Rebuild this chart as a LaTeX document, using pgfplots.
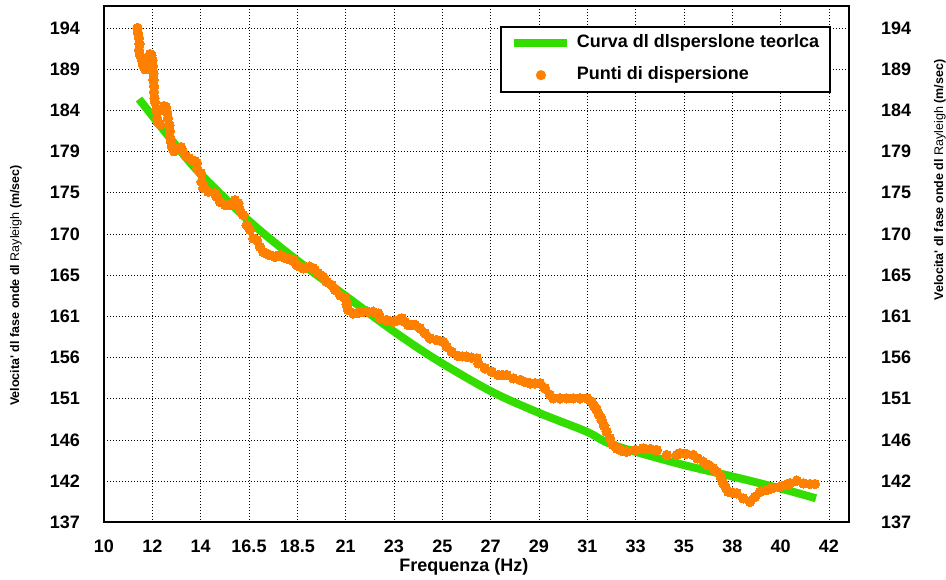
\documentclass[border=0pt]{standalone}
\usepackage{pgfplots}
\pgfplotsset{compat=1.18}
\usepackage{fontspec}
\setmainfont{Liberation Sans}
\definecolor{mygreen}{RGB}{51,221,0}
\definecolor{myorange}{RGB}{255,128,0}
\newcommand{\tickfont}{\fontsize{18}{20}\selectfont\bfseries}
\newcommand{\ylab}{{\bfseries Velocita\textquotesingle\ dl fase onde dl }Rayleigh{\bfseries\ (m/sec)}}
\begin{document}
\begin{tikzpicture}[x=1pt,y=1pt]
\useasboundingbox (0,0) rectangle (946,580);
\begin{axis}[
  at={(104pt,57.5pt)}, anchor=south west,
  scale only axis, width=745pt, height=516.5pt,
  xmin=10, xmax=42.883, ymin=137, ymax=196.54,
  xtick={10,12.1333,14.2667,16.4,18.5333,20.6667,22.8,24.9333,27.0667,29.2,31.3333,33.4667,35.6,37.7333,39.8667,42},
  xticklabels={10,12,14,16.5,18.5,21,23,25,27,29,31,33,35,38,40,42},
  ytick={137,141.75,146.5,151.25,156,160.75,165.5,170.25,175,179.75,184.5,189.25,194},
  yticklabels={137,142,146,151,156,161,165,170,175,179,184,189,194},
  major tick length=0pt,
  grid=major,
  major grid style={black, line width=0.8pt, dash pattern=on 0.9pt off 2.1pt},
  axis line style={line width=2pt},
  tick label style={font=\tickfont},
  xticklabel style={anchor=center, inner sep=0pt, yshift=-24pt},
  yticklabel style={anchor=east, inner sep=0pt, xshift=-24pt},
  xlabel={Frequenza (Hz)},
  every axis x label/.style={at={(axis description cs:0.4832,-0.0856)}, anchor=center, font=\tickfont},
  ylabel={\ylab},
  every axis y label/.style={at={(axis description cs:-0.1181,0.4589)}, rotate=90, anchor=center, font=\fontsize{12.5}{14}\selectfont},
  legend cell align=left,
  legend style={at={(axis description cs:0.5315,0.9619)}, anchor=north west, draw=black, line width=2pt, fill=white,
    inner xsep=6pt, inner ysep=8pt, row sep=15pt, font=\tickfont,
    nodes={inner sep=0pt, text height=13pt, text depth=4pt},
    /tikz/every odd column/.append style={column sep=6pt}},
]
\addplot[color=mygreen, line width=8pt, smooth, tension=0.5,
  legend image code/.code={\path (0pt,0pt); \draw[mygreen,line width=8pt] (3pt,0pt) -- (56pt,0pt);}]
  coordinates {
(11.545,185.82) (12.913,181.32) (14.237,177.23) (16.444,171.67) (18.505,167.26)
(20.712,163.03) (22.769,159.07) (24.685,155.73) (27.112,152.08) (29.244,149.59)
(31.305,147.47) (32.480,145.93) (35.423,143.74) (37.776,142.28) (39.837,140.94)
(41.427,139.79)
};
\addlegendentry{Curva dl dlsperslone teorlca\hspace*{5pt}}
\addplot[only marks, mark=*, mark size=4.8pt, color=myorange, mark options={draw=myorange, fill=myorange, line width=0pt},
  legend image code/.code={\path (0pt,0pt) (56pt,0pt); \fill[myorange] (30pt,0pt) circle (4pt);}]
  coordinates {
(11.479,194.00) (11.501,193.42) (11.545,192.85) (11.567,192.16) (11.545,191.46)
(11.589,190.89) (11.677,190.31) (11.721,189.74) (11.810,189.27) (11.898,189.62)
(11.942,190.31) (12.030,191.00) (12.097,190.89) (12.141,190.31) (12.163,189.62)
(12.185,188.81) (12.185,188.01) (12.207,187.31) (12.207,186.62) (12.229,185.93)
(12.251,185.47) (12.295,184.55) (12.339,183.63) (12.383,183.16) (12.472,182.93)
(12.560,184.55) (12.648,185.01) (12.737,184.89) (12.781,184.32) (12.825,183.63)
(12.891,182.82) (12.913,182.13) (12.913,181.44) (12.957,180.86) (13.001,180.28)
(13.090,179.82) (13.178,179.94) (13.310,180.17) (13.399,180.28) (13.487,179.71)
(13.619,179.25) (13.752,179.02) (13.884,178.78) (14.017,178.67) (14.105,178.44)
(14.105,177.86) (14.268,177.29) (14.312,176.28) (14.383,175.56) (14.604,175.13)
(14.899,174.95) (14.974,174.55) (15.120,173.98) (15.341,173.60) (15.490,173.60)
(15.636,173.60) (15.782,174.17) (15.928,173.79) (16.003,173.02) (16.148,172.45)
(16.299,171.29) (16.444,170.72) (16.590,169.76) (16.740,169.56) (16.886,168.79)
(17.031,168.21) (17.180,168.00) (17.327,167.83) (17.548,167.64) (17.768,167.83)
(17.920,167.60) (18.064,167.45) (18.210,167.35) (18.355,167.26) (18.505,166.68)
(18.650,166.50) (18.797,166.30) (18.950,166.40) (19.092,166.49) (19.238,166.30)
(19.313,166.11) (19.459,165.73) (19.680,165.33) (19.829,164.76) (20.050,164.38)
(20.196,163.80) (20.417,163.22) (20.637,162.84) (20.710,162.15) (20.783,161.49) (21.004,161.11)
(21.220,161.20) (21.445,161.30) (21.652,161.30) (21.886,161.30) (22.107,161.11)
(22.182,160.54) (22.478,160.34) (22.769,160.15) (22.950,160.30) (23.140,160.54)
(23.286,160.15) (23.431,159.77) (23.580,159.77) (23.727,159.77) (23.948,159.38)
(24.168,158.81) (24.389,158.23) (24.685,158.04) (24.976,157.84) (25.126,157.26)
(25.347,156.69) (25.638,156.19) (25.820,156.15) (26.009,156.11) (26.230,156.00)
(26.450,155.93) (26.521,155.35) (26.817,154.77) (27.112,154.38) (27.404,154.00)
(27.590,154.00) (27.774,154.00) (28.066,153.62) (28.362,153.43) (28.580,153.20)
(28.803,153.05) (29.020,153.05) (29.244,153.05) (29.465,152.47) (29.686,151.70)
(29.831,151.32) (30.127,151.32) (30.420,151.32) (30.714,151.32) (31.010,151.32)
(31.305,151.32) (31.526,150.92) (31.640,150.45) (31.747,149.97) (31.860,149.40) (31.968,148.81)
(32.080,148.15) (32.188,147.47) (32.334,146.71) (32.480,145.93) (32.630,145.55)
(32.850,145.30) (33.071,145.16)
(33.451,145.36) (33.804,145.55) (34.113,145.47) (34.395,145.36) (34.836,144.78)
(35.278,144.78) (35.423,144.98) (35.688,144.90) (36.011,144.78) (36.200,144.40)
(36.452,144.01) (36.680,143.65) (36.893,143.25) (37.050,142.85) (37.189,142.48)
(37.260,142.00) (37.334,141.52) (37.450,141.00) (37.555,140.55)
(37.740,140.45) (37.926,140.37) (38.218,139.79) (38.513,139.40) (38.734,139.97) (38.955,140.55)
(39.250,140.75) (39.471,140.94) (39.837,141.13) (40.060,141.30) (40.279,141.52)
(40.574,141.82) (40.866,141.52) (41.162,141.44) (41.382,141.44)
};
\addlegendentry{Punti di dispersione}
\end{axis}
\begin{axis}[
  at={(104pt,57.5pt)}, anchor=south west,
  scale only axis, width=745pt, height=516.5pt,
  xmin=10, xmax=42.883, ymin=137, ymax=196.54,
  hide x axis, axis y line*=right, y axis line style={draw=none},
  ytick={137,141.75,146.5,151.25,156,160.75,165.5,170.25,175,179.75,184.5,189.25,194},
  yticklabels={137,142,146,151,156,161,165,170,175,179,184,189,194},
  major tick length=0pt,
  tick label style={font=\tickfont},
  yticklabel style={anchor=west, inner sep=0pt, xshift=32pt},
  ylabel={\ylab},
  every axis y label/.style={at={(axis description cs:1.1221,0.663)}, rotate=90, anchor=center, font=\fontsize{12.5}{14}\selectfont},
]
\end{axis}
\end{tikzpicture}
\end{document}
